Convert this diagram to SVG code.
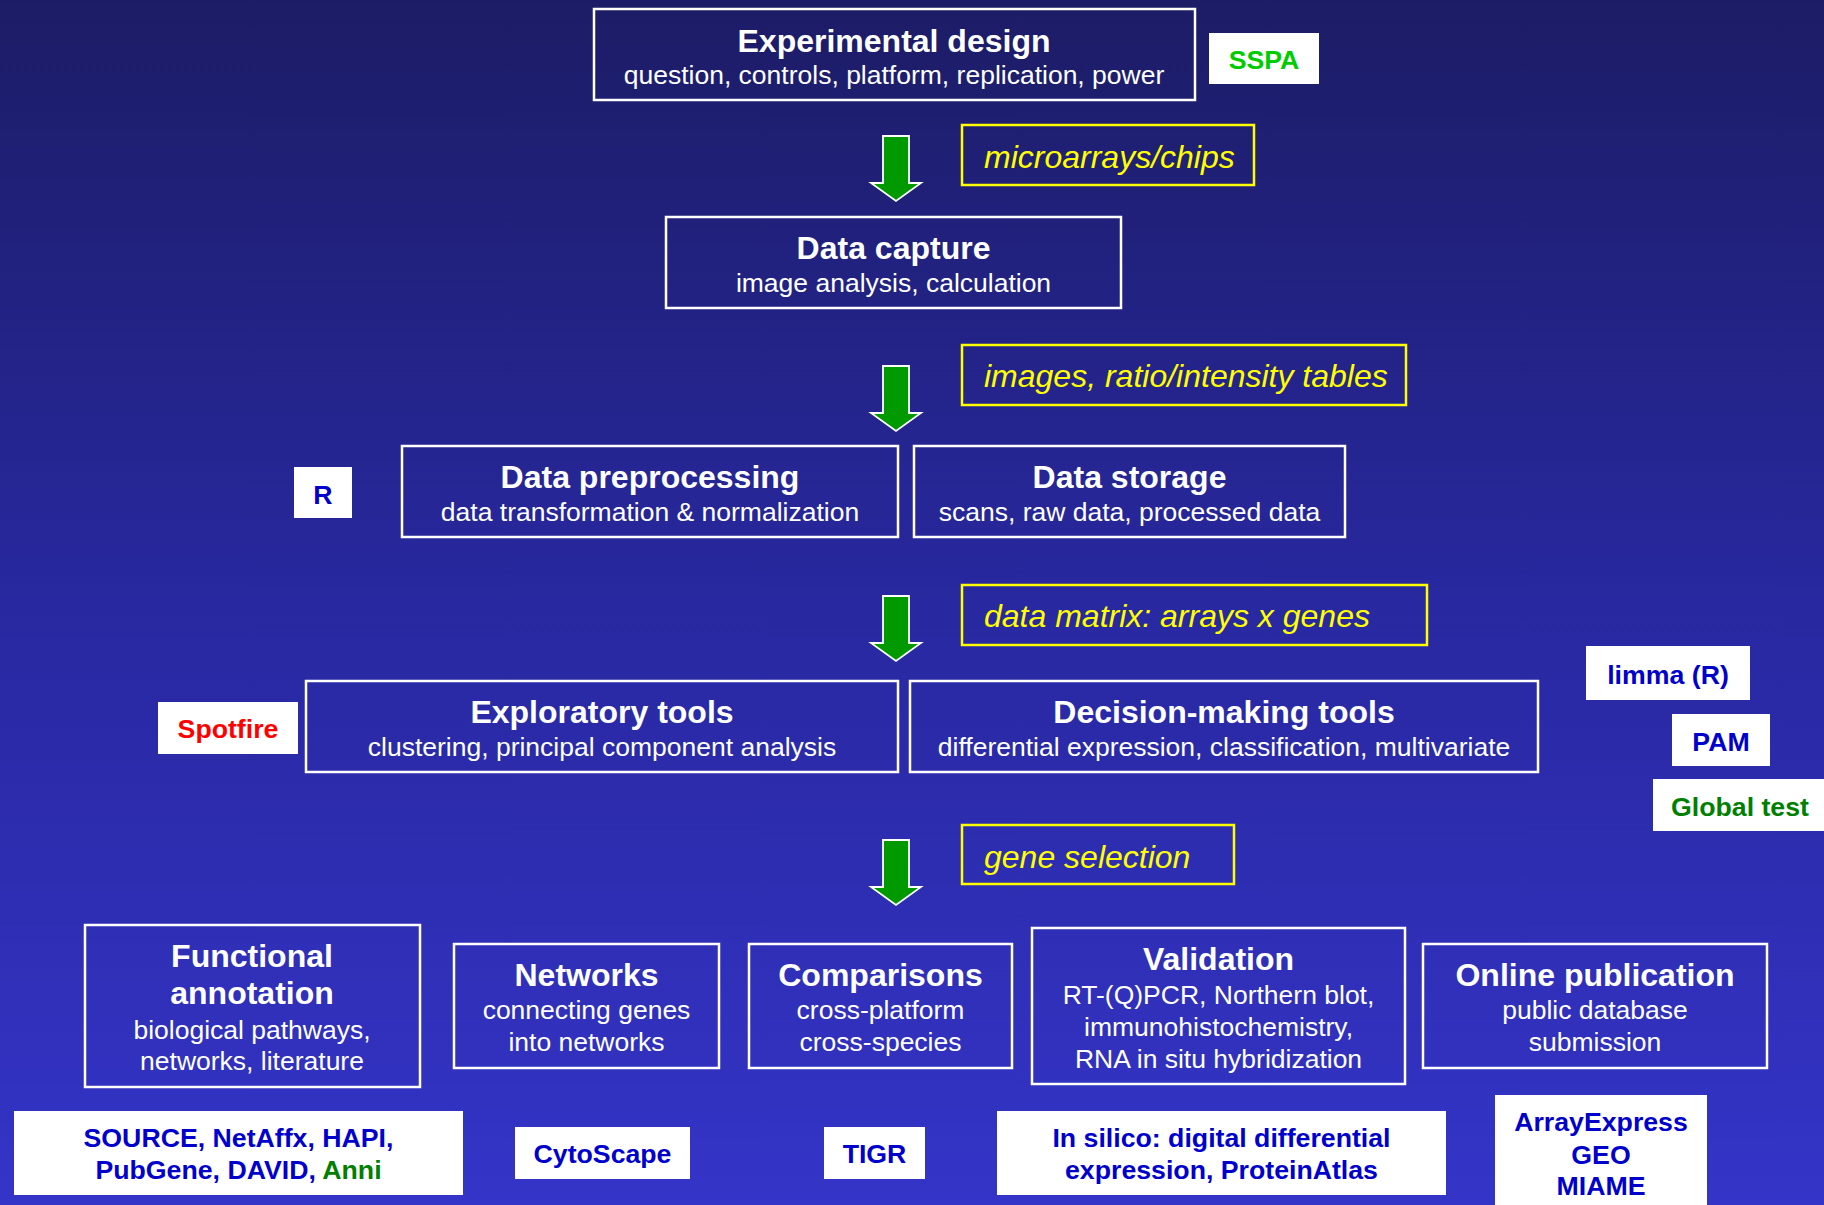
<svg xmlns="http://www.w3.org/2000/svg" width="1824" height="1205" viewBox="0 0 1824 1205">
<defs>
<linearGradient id="bg" x1="0" y1="0" x2="0" y2="1">
<stop offset="0" stop-color="#1c1c66"/>
<stop offset="0.5" stop-color="#2828a0"/>
<stop offset="1" stop-color="#3434c8"/>
</linearGradient>
<path id="arrow" d="M-13,0 H13 V47 H25 L0,65 L-25,47 H-13 Z"/>
</defs>
<style>
text{font-family:"Liberation Sans",Arial,sans-serif}
.box{fill:none;stroke:#ffffff;stroke-width:2.5}
.ybox{fill:none;stroke:#ffff00;stroke-width:2.5}
.wbox{fill:#ffffff;stroke:none}
.t{fill:#ffffff;font-weight:bold;font-size:32px;text-anchor:middle}
.s{fill:#ffffff;font-size:26.5px;text-anchor:middle}
.y{fill:#ffff00;font-style:italic;font-size:32px}
.l{font-weight:bold;font-size:26.7px;text-anchor:middle;fill:#0000cc}
.arr{fill:#009900;stroke:#ffffff;stroke-width:1.8}
</style>
<rect x="0" y="0" width="1824" height="1205" fill="url(#bg)"/>

<g id="connectors">
<use href="#arrow" class="arr" transform="translate(896,136)"/>
<use href="#arrow" class="arr" transform="translate(896,366)"/>
<use href="#arrow" class="arr" transform="translate(896,596)"/>
<use href="#arrow" class="arr" transform="translate(896,840)"/>
</g>

<g id="experimental-design">
<rect class="box" x="594" y="9" width="601" height="91"/>
<text class="t" x="894" y="52">Experimental design</text>
<text class="s" x="894" y="84">question, controls, platform, replication, power</text>
</g>
<g id="sspa">
<rect class="wbox" x="1209" y="33" width="110" height="51"/>
<text class="l" x="1264" y="69" style="fill:#00cc00">SSPA</text>
</g>
<g id="microarrays-chips">
<rect class="ybox" x="962" y="125" width="292" height="60"/>
<text class="y" x="984" y="168">microarrays/chips</text>
</g>

<g id="data-capture">
<rect class="box" x="666" y="217" width="455" height="91"/>
<text class="t" x="893.5" y="259">Data capture</text>
<text class="s" x="893.5" y="292">image analysis, calculation</text>
</g>
<g id="images-tables">
<rect class="ybox" x="962" y="345" width="444" height="60"/>
<text class="y" x="984" y="387">images, ratio/intensity tables</text>
</g>

<g id="r-tool">
<rect class="wbox" x="294" y="467" width="58" height="51"/>
<text class="l" x="323" y="504">R</text>
</g>
<g id="data-preprocessing">
<rect class="box" x="402" y="446" width="496" height="91"/>
<text class="t" x="650" y="488">Data preprocessing</text>
<text class="s" x="650" y="521">data transformation &amp; normalization</text>
</g>
<g id="data-storage">
<rect class="box" x="914" y="446" width="431" height="91"/>
<text class="t" x="1129.5" y="488">Data storage</text>
<text class="s" x="1129.5" y="521">scans, raw data, processed data</text>
</g>
<g id="data-matrix">
<rect class="ybox" x="962" y="585" width="465" height="60"/>
<text class="y" x="984" y="627">data matrix: arrays x genes</text>
</g>

<g id="spotfire">
<rect class="wbox" x="158" y="702" width="140" height="52"/>
<text class="l" x="228" y="738" style="fill:#ff0000">Spotfire</text>
</g>
<g id="exploratory-tools">
<rect class="box" x="306" y="681" width="592" height="91"/>
<text class="t" x="602" y="723">Exploratory tools</text>
<text class="s" x="602" y="756">clustering, principal component analysis</text>
</g>
<g id="decision-making-tools">
<rect class="box" x="910" y="681" width="628" height="91"/>
<text class="t" x="1224" y="723">Decision-making tools</text>
<text class="s" x="1224" y="756">differential expression, classification, multivariate</text>
</g>
<g id="limma">
<rect class="wbox" x="1586" y="646" width="164" height="54"/>
<text class="l" x="1668" y="684">limma (R)</text>
</g>
<g id="pam">
<rect class="wbox" x="1672" y="714" width="98" height="52"/>
<text class="l" x="1721" y="751">PAM</text>
</g>
<g id="global-test">
<rect class="wbox" x="1653" y="779" width="171" height="52"/>
<text class="l" x="1740" y="816" style="fill:#008000">Global test</text>
</g>

<g id="gene-selection">
<rect class="ybox" x="962" y="825" width="272" height="59"/>
<text class="y" x="984" y="868">gene selection</text>
</g>

<g id="functional-annotation">
<rect class="box" x="85" y="925" width="335" height="162"/>
<text class="t" x="252" y="967">Functional</text>
<text class="t" x="252" y="1004">annotation</text>
<text class="s" x="252" y="1039">biological pathways,</text>
<text class="s" x="252" y="1070">networks, literature</text>
</g>
<g id="networks">
<rect class="box" x="454" y="944" width="265" height="124"/>
<text class="t" x="586.5" y="986">Networks</text>
<text class="s" x="586.5" y="1019">connecting genes</text>
<text class="s" x="586.5" y="1051">into networks</text>
</g>
<g id="comparisons">
<rect class="box" x="749" y="944" width="263" height="124"/>
<text class="t" x="880.5" y="986">Comparisons</text>
<text class="s" x="880.5" y="1019">cross-platform</text>
<text class="s" x="880.5" y="1051">cross-species</text>
</g>
<g id="validation">
<rect class="box" x="1032" y="928" width="373" height="156"/>
<text class="t" x="1218.5" y="970">Validation</text>
<text class="s" x="1218.5" y="1004">RT-(Q)PCR, Northern blot,</text>
<text class="s" x="1218.5" y="1036">immunohistochemistry,</text>
<text class="s" x="1218.5" y="1068">RNA in situ hybridization</text>
</g>
<g id="online-publication">
<rect class="box" x="1423" y="944" width="344" height="124"/>
<text class="t" x="1595" y="986">Online publication</text>
<text class="s" x="1595" y="1019">public database</text>
<text class="s" x="1595" y="1051">submission</text>
</g>

<g id="source-tools">
<rect class="wbox" x="14" y="1111" width="449" height="84"/>
<text class="l" x="238.5" y="1147">SOURCE, NetAffx, HAPI,</text>
<text class="l" x="238.5" y="1179">PubGene, DAVID, <tspan style="fill:#008000">Anni</tspan></text>
</g>
<g id="cytoscape">
<rect class="wbox" x="515" y="1127" width="175" height="52"/>
<text class="l" x="602.5" y="1163">CytoScape</text>
</g>
<g id="tigr">
<rect class="wbox" x="824" y="1127" width="101" height="52"/>
<text class="l" x="874.5" y="1163">TIGR</text>
</g>
<g id="in-silico">
<rect class="wbox" x="997" y="1111" width="449" height="84"/>
<text class="l" x="1221.5" y="1147">In silico: digital differential</text>
<text class="l" x="1221.5" y="1179">expression, ProteinAtlas</text>
</g>
<g id="arrayexpress">
<rect class="wbox" x="1495" y="1095" width="212" height="110"/>
<text class="l" x="1601" y="1131">ArrayExpress</text>
<text class="l" x="1601" y="1164">GEO</text>
<text class="l" x="1601" y="1195">MIAME</text>
</g>
</svg>
